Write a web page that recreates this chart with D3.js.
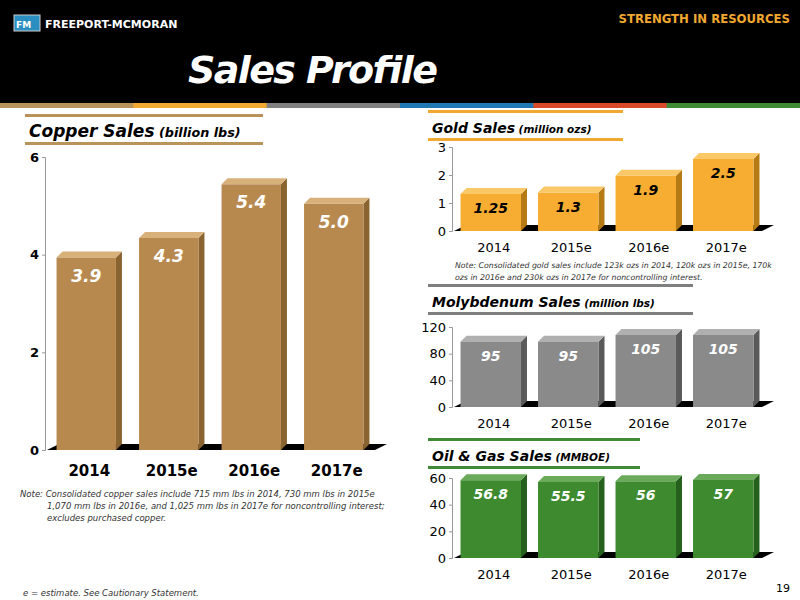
<!DOCTYPE html>
<html><head><meta charset="utf-8">
<script src="https://cdn.jsdelivr.net/npm/d3@7"></script>
<style>body{margin:0;background:#fff}svg{display:block}</style></head>
<body><svg id="c" width="800" height="600"></svg>
<script>
const years = ['2014', '2015e', '2016e', '2017e'];
const copper = [3.9, 4.3, 5.4, 5.0];
const copperLabels = ['3.9', '4.3', '5.4', '5.0'];
const gold = [1.25, 1.3, 1.9, 2.5];
const goldLabels = ['1.25', '1.3', '1.9', '2.5'];
const moly = [95, 95, 105, 105];
const molyLabels = ['95', '95', '105', '105'];
const oil = [56.8, 55.5, 56, 57];
const oilLabels = ['56.8', '55.5', '56', '57'];
const stripColors = ['#b8935a', '#f0a830', '#808080', '#1e78b4', '#d84a2a', '#3f8a35'];

const svg = d3.select('#c');
const F = 'Verdana, "DejaVu Sans", sans-serif';

// header
svg.append('rect').attr('width', 800).attr('height', 103).attr('fill', '#000');
svg.append('rect').attr('x', 14).attr('y', 15).attr('width', 26).attr('height', 16).attr('fill', '#2a8fc0').attr('stroke', '#ccc');
svg.append('text').attr('x', 16).attr('y', 28).attr('fill', '#fff').attr('font-family', F).attr('font-size', 9).attr('font-weight', 'bold').text('FM');
svg.append('text').attr('x', 45).attr('y', 28).attr('fill', '#fff').attr('font-family', F).attr('font-size', 11).attr('font-weight', 'bold').text('FREEPORT-MCMORAN');
svg.append('text').attr('x', 790).attr('y', 23).attr('text-anchor', 'end').attr('fill', '#f0a830').attr('font-family', '"DejaVu Sans Condensed", sans-serif').attr('font-size', 13).attr('font-weight', 'bold').text('STRENGTH IN RESOURCES');
svg.append('text').attr('x', 188).attr('y', 83).attr('fill', '#fff').attr('font-family', F).attr('font-size', 38).attr('font-weight', 'bold').attr('font-style', 'italic').attr('textLength', 250).text('Sales Profile');
const strip = d3.scaleBand().domain(d3.range(6)).range([0, 800]);
svg.selectAll('.strip').data(stripColors).enter().append('rect')
  .attr('x', (d, i) => strip(i)).attr('y', 103).attr('width', strip.bandwidth() + 1).attr('height', 5).attr('fill', d => d);

function title(x, y, w, color, main, sub, size) {
  svg.append('rect').attr('x', x).attr('y', y - 18).attr('width', w).attr('height', 3).attr('fill', color);
  svg.append('rect').attr('x', x).attr('y', y + 10).attr('width', w).attr('height', 3).attr('fill', color);
  const t = svg.append('text').attr('x', x + 4).attr('y', y + 5).attr('font-family', F).attr('font-weight', 'bold').attr('font-style', 'italic').attr('font-size', size);
  t.append('tspan').text(main);
  t.append('tspan').attr('font-size', size * 0.75).text(' ' + sub);
}

function chart(o) {
  const x = d3.scaleBand().domain(years).range([o.x0, o.x1]).paddingInner(o.pad).paddingOuter(o.pad / 2);
  const y = d3.scaleLinear().domain([0, o.max]).range([o.y0, o.y1]);
  const g = svg.append('g');
  const dp = o.depth;
  // floor
  g.append('path').attr('d', `M${o.x0 + 2},${o.y0} L${o.x1},${o.y0} L${o.x1 + dp * 2},${o.y0 - dp} L${o.x0 + dp * 2 + 2},${o.y0 - dp}Z`).attr('fill', '#000');
  const axis = d3.axisLeft(y).tickValues(o.ticks).tickSize(3).tickFormat(d3.format('d'));
  const ax = g.append('g').attr('transform', `translate(${o.x0},0)`).call(axis);
  ax.select('.domain').attr('stroke', '#999');
  ax.selectAll('line').attr('stroke', '#999');
  ax.selectAll('text').attr('font-family', F).attr('font-size', o.tickSize).attr('font-weight', o.boldTicks ? 'bold' : 'normal').attr('fill', '#000');
  const bars = g.selectAll('.b').data(o.values).enter().append('g');
  bars.append('path').attr('fill', o.dark)
    .attr('d', (d, i) => { const bx = x(years[i]) + x.bandwidth(), t = y(d) - 2;
      return `M${bx},${t} L${bx + dp},${t - dp} L${bx + dp},${o.y0 - dp} L${bx},${o.y0}Z`; });
  bars.append('path').attr('fill', o.light)
    .attr('d', (d, i) => { const bx = x(years[i]), t = y(d) - 2;
      return `M${bx},${t} L${bx + dp},${t - dp} L${bx + x.bandwidth() + dp},${t - dp} L${bx + x.bandwidth()},${t}Z`; });
  bars.append('rect').attr('x', (d, i) => x(years[i])).attr('y', d => y(d) - 2)
    .attr('width', x.bandwidth()).attr('height', d => o.y0 - y(d) + 2).attr('fill', o.color);
  bars.append('text').attr('x', (d, i) => x(years[i]) + x.bandwidth() / 2).attr('y', d => y(d) + o.labelOff)
    .attr('text-anchor', 'middle').attr('font-family', F).attr('font-weight', 'bold').attr('font-style', 'italic')
    .attr('font-size', o.labelSize).attr('fill', o.labelColor).text((d, i) => o.labels[i]);
  g.selectAll('.cat').data(years).enter().append('text')
    .attr('x', d => x(d) + x.bandwidth() / 2 + dp / 2).attr('y', o.y0 + o.catOff).attr('text-anchor', 'middle')
    .attr('font-family', F).attr('font-size', o.catSize).attr('font-weight', o.boldTicks ? 'bold' : 'normal').text(d => d);
}

title(25, 132, 238, '#b8935a', 'Copper Sales', '(billion lbs)', 17);
chart({ x0: 45, x1: 375, y0: 450, y1: 157, max: 6, ticks: [0, 2, 4, 6], pad: 0.28, depth: 6, values: copper, labels: copperLabels,
  color: '#b8894e', light: '#d8b07a', dark: '#8a6430', labelColor: '#fff', labelSize: 17, labelOff: 22, catSize: 15, catOff: 26, tickSize: 13, boldTicks: true });

title(428, 128, 195, '#f0a830', 'Gold Sales', '(million ozs)', 14);
chart({ x0: 452, x1: 762, y0: 231, y1: 147, max: 3, ticks: [0, 1, 2, 3], pad: 0.22, depth: 6, values: gold, labels: goldLabels,
  color: '#f6ad32', light: '#fbc868', dark: '#b57a14', labelColor: '#000', labelSize: 14, labelOff: 17, catSize: 13, catOff: 21, tickSize: 13 });

title(428, 302, 265, '#7f7f7f', 'Molybdenum Sales', '(million lbs)', 14);
chart({ x0: 452, x1: 762, y0: 407, y1: 327, max: 120, ticks: [0, 40, 80, 120], pad: 0.22, depth: 6, values: moly, labels: molyLabels,
  color: '#8a8a8a', light: '#b0b0b0', dark: '#5a5a5a', labelColor: '#fff', labelSize: 14, labelOff: 17, catSize: 13, catOff: 21, tickSize: 13 });

title(428, 456, 212, '#3f8a35', 'Oil & Gas Sales', '(MMBOE)', 14);
chart({ x0: 452, x1: 762, y0: 558, y1: 478, max: 60, ticks: [0, 20, 40, 60], pad: 0.22, depth: 6, values: oil, labels: oilLabels,
  color: '#3d8a2f', light: '#6aaa5a', dark: '#25601c', labelColor: '#fff', labelSize: 14, labelOff: 17, catSize: 13, catOff: 21, tickSize: 13 });

function note(x, y, lines, size) {
  const t = svg.append('text').attr('font-family', F).attr('font-style', 'italic').attr('font-size', size).attr('fill', '#333');
  lines.forEach((l, i) => t.append('tspan').attr('x', l[1] ? x + l[1] : x).attr('y', y + i * 12).text(l[0]));
}
note(455, 268, [['Note:  Consolidated gold sales include 123k ozs in 2014, 120k ozs in 2015e, 170k'], ['ozs in 2016e and 230k ozs in 2017e for noncontrolling interest.']], 7.8);
note(20, 497, [['Note:  Consolidated copper sales include 715 mm lbs in 2014, 730 mm lbs in 2015e'], ['1,070 mm lbs in 2016e, and 1,025 mm lbs in 2017e for noncontrolling interest;', 27], ['excludes purchased copper.', 27]], 8.5);
note(23, 596, [['e = estimate. See Cautionary Statement.']], 8.5);
svg.append('text').attr('x', 790).attr('y', 592).attr('text-anchor', 'end').attr('font-family', F).attr('font-size', 11).text('19');
</script></body></html>
